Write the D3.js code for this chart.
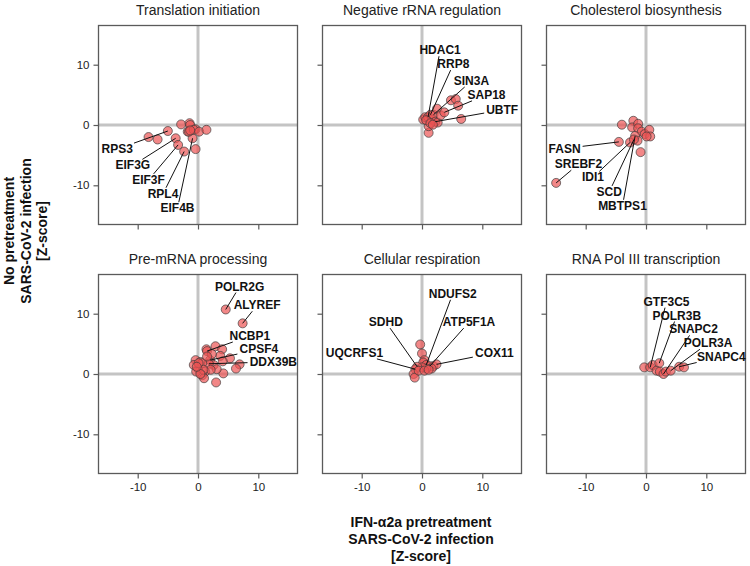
<!DOCTYPE html>
<html><head><meta charset="utf-8">
<script src="https://cdn.jsdelivr.net/npm/d3@7"></script>
<style>body{margin:0;background:#fff}svg{display:block}</style>
</head><body><svg id="c" width="750" height="566"></svg>
<script>
// ---------- data ----------
const panelTitles = ["Translation initiation","Negative rRNA regulation","Cholesterol biosynthesis",
                     "Pre-mRNA processing","Cellular respiration","RNA Pol III transcription"];
const tickValues = [-10, 0, 10];

// points: [x (IFN pretreatment z), y (no pretreatment z)]
const translationPts = [[-5.0,-1.0],[-8.2,-2.0],[-6.7,-2.4],[-3.7,-2.2],[-3.3,-3.3],[-2.3,-4.4],[-0.9,-2.2],
  [-0.4,-4.0],[-2.8,0.1],[-1.4,0.3],[-1.3,0.0],[-1.7,-1.1],[-1.5,-1.1],[-0.4,-0.7],[-0.7,-0.8],[0.2,-1.1],[1.4,-0.8],[-1.3,-0.9]];
const rrnaPts = [[1.1,-1.3],[1.1,-0.2],[0.2,0.9],[0.55,1.3],[1.0,1.3],[1.4,1.7],[1.7,0.9],[1.9,1.7],[2.5,2.7],[2.2,0.55],
  [2.6,0.4],[3.1,1.6],[3.7,2.1],[4.8,4.1],[5.6,4.3],[6.0,3.2],[6.5,1.0],[0.7,0.8],[1.4,0.3],[1.8,0.05]];
const cholesterolPts = [[-14.9,-9.6],[-4.5,-2.8],[-4.0,0.05],[-2.1,0.7],[-2.3,-0.4],[-1.3,0.2],[-1.3,-0.55],[-0.7,-1.1],
  [-0.2,-1.5],[0.55,-0.8],[0.7,-1.9],[0.1,-1.9],[-1.8,-1.8],[-2.65,-2.9],[-1.4,-2.6],[-0.9,-4.5],[-2.0,-2.4]];
const premrnaPts = [[4.6,10.7],[7.4,8.4],[2.9,4.6],[1.4,4.1],[1.5,3.8],[4.0,4.1],[5.3,2.6],[6.9,1.6],[6.3,0.9],[4.2,0.1],
  [3.0,-1.4],[-0.4,2.3],[0.4,2.0],[2.0,2.3],[3.7,3.0],[4.1,2.1],[2.6,1.5],[3.1,0.8],[1.2,0.4],[0.7,-0.2],[1.0,-0.7],
  [0.0,0.9],[-0.7,1.5],[-0.3,0.4],[1.8,1.7],[2.1,0.7],[0.7,1.8],[2.3,3.3],[1.5,2.9],[0.9,0.7],[0.1,1.8],[0.4,0.0],[-0.2,1.2]];
const respirationPts = [[-0.3,4.9],[0.0,3.4],[0.4,2.3],[0.2,1.9],[0.7,1.5],[1.3,1.3],[1.9,1.3],[2.4,1.6],[1.6,0.9],
  [0.7,0.9],[0.0,1.1],[-0.8,1.2],[-1.1,0.8],[-1.4,0.0],[-1.2,-0.6],[-0.55,0.55],[0.4,0.55],[1.1,0.7]];
const polIIIPts = [[-0.3,1.1],[0.7,1.1],[1.1,1.5],[2.2,1.8],[1.75,0.55],[2.3,0.4],[2.9,0.0],[3.3,0.4],[4.1,0.55],[5.5,1.2],[6.3,1.1]];

// labelled genes: [gene, point x, point y]
const translationGenes = [["RPS3",-5.0,-1.0],["EIF3G",-3.7,-2.2],["EIF3F",-3.3,-3.3],["RPL4",-2.3,-4.4],["EIF4B",-0.9,-2.2]];
const rrnaGenes = [["HDAC1",1.0,1.3],["RRP8",1.4,1.7],["SIN3A",1.9,1.7],["SAP18",3.7,2.1],["UBTF",2.2,0.55]];
const cholesterolGenes = [["FASN",-4.5,-2.8],["SREBF2",-14.9,-9.6],["IDI1",-2.65,-2.9],["SCD",-2.0,-2.4],["MBTPS1",-1.8,-1.8]];
const premrnaGenes = [["POLR2G",4.6,10.7],["ALYREF",7.4,8.4],["NCBP1",1.5,3.8],["CPSF4",2.0,2.3],["DDX39B",1.8,1.7]];
const respirationGenes = [["NDUFS2",0.7,1.5],["SDHD",-0.8,1.2],["ATP5F1A",1.3,1.3],["UQCRFS1",-1.1,0.8],["COX11",2.4,1.6]];
const polIIIGenes = [["GTF3C5",0.7,1.1],["POLR3B",2.2,1.8],["SNAPC2",2.9,0.0],["POLR3A",4.1,0.55],["SNAPC4",5.5,1.2]];

// label text centres (data units), in same order as the gene lists
const translationLabelPos = [[-13.4,-4.0],[-10.8,-6.7],[-8.2,-9.1],[-5.8,-11.4],[-3.4,-13.8]];
const rrnaLabelPos = [[3.0,12.4],[5.2,10.1],[8.2,7.3],[10.7,5.0],[13.3,2.5]];
const cholesterolLabelPos = [[-13.5,-3.9],[-11.2,-6.5],[-8.8,-8.7],[-6.1,-11.1],[-3.9,-13.4]];
const premrnaLabelPos = [[6.9,14.5],[9.8,11.4],[8.6,6.3],[10.1,4.1],[12.5,2.0]];
const respirationLabelPos = [[5.1,13.3],[-6.0,8.6],[7.8,8.6],[-11.2,3.5],[12.0,3.5]];
const polIIILabelPos = [[3.4,12.0],[5.1,9.7],[7.9,7.4],[10.3,5.1],[12.5,2.9]];

const panelPoints = [translationPts, rrnaPts, cholesterolPts, premrnaPts, respirationPts, polIIIPts];
const panelGenes = [translationGenes, rrnaGenes, cholesterolGenes, premrnaGenes, respirationGenes, polIIIGenes];
const panelLabelPos = [translationLabelPos, rrnaLabelPos, cholesterolLabelPos, premrnaLabelPos, respirationLabelPos, polIIILabelPos];

// ---------- layout ----------
const svg = d3.select("#c");
const colLeft = [98.5, 322.5, 546.5], rowTop = [25.5, 274.5], size = 199;
const domain = [-16.5, 16.5];
const font = "'Liberation Sans', Arial, Helvetica, sans-serif";

panelTitles.forEach((title, i) => {
  const r = Math.floor(i / 3), c = i % 3;
  const L = colLeft[c], T = rowTop[r];
  const x = d3.scaleLinear().domain(domain).range([L, L + size]);
  const y = d3.scaleLinear().domain(domain).range([T + size, T]);
  const g = svg.append("g");

  // zero lines
  g.append("line").attr("x1", x(0)).attr("x2", x(0)).attr("y1", T).attr("y2", T + size)
    .attr("stroke", "#c4c4c4").attr("stroke-width", 3);
  g.append("line").attr("y1", y(0)).attr("y2", y(0)).attr("x1", L).attr("x2", L + size)
    .attr("stroke", "#c4c4c4").attr("stroke-width", 3);

  // box
  g.append("rect").attr("x", L).attr("y", T).attr("width", size).attr("height", size)
    .attr("fill", "none").attr("stroke", "#5a5a5a").attr("stroke-width", 1.3);

  // axes
  const fmt = d => d < 0 ? "-" + Math.abs(d) : String(d);
  const xa = g.append("g").attr("transform", `translate(0,${T + size})`)
    .call(d3.axisBottom(x).tickValues(tickValues).tickSize(5).tickPadding(4)
      .tickFormat(r === 1 ? fmt : () => ""));
  const ya = g.append("g").attr("transform", `translate(${L},0)`)
    .call(d3.axisLeft(y).tickValues(tickValues).tickSize(5).tickPadding(4)
      .tickFormat(c === 0 ? fmt : () => ""));
  [xa, ya].forEach(a => {
    a.select(".domain").remove();
    a.selectAll(".tick line").attr("stroke", "#5a5a5a").attr("stroke-width", 1.2);
    a.selectAll(".tick text").attr("fill", "#222").style("font-family", font).style("font-size", "11.5px");
  });

  // title
  g.append("text").attr("x", L + size / 2).attr("y", T - 11).attr("text-anchor", "middle")
    .style("font-family", font).style("font-size", "14px").attr("fill", "#222").text(title);

  // points
  g.append("g").selectAll("circle").data(panelPoints[i]).join("circle")
    .attr("cx", d => x(d[0])).attr("cy", d => y(d[1])).attr("r", 4.5)
    .attr("fill", "rgb(236,84,84)").attr("fill-opacity", 0.7)
    .attr("stroke", "#3a3a3a").attr("stroke-opacity", 0.75).attr("stroke-width", 0.9);

  // labels with leader segments
  const lg = g.append("g");
  panelGenes[i].forEach((gene, k) => {
    const lp = panelLabelPos[i][k];
    const cx = x(lp[0]), cy = y(lp[1]);
    const t = lg.append("text").attr("x", cx).attr("y", cy).attr("text-anchor", "middle")
      .attr("dominant-baseline", "central").style("font-family", font)
      .style("font-size", "12px").style("font-weight", "bold").attr("fill", "#111").text(gene[0]);
    const bb = t.node().getBBox();
    const hw = bb.width / 2 + 2, hh = bb.height / 2 - 1;
    const px = x(gene[1]), py = y(gene[2]);
    const dx = px - cx, dy = py - cy;
    const s = Math.min(dx !== 0 ? hw / Math.abs(dx) : Infinity, dy !== 0 ? hh / Math.abs(dy) : Infinity);
    if (s < 1) {
      lg.insert("line", "text").attr("x1", cx + dx * s).attr("y1", cy + dy * s).attr("x2", px).attr("y2", py)
        .attr("stroke", "#111").attr("stroke-width", 1);
    }
  });
});

// axis titles
const xt = svg.append("text").attr("text-anchor", "middle").style("font-family", font)
  .style("font-size", "14px").style("font-weight", "bold").attr("fill", "#111");
["IFN-α2a pretreatment", "SARS-CoV-2 infection", "[Z-score]"].forEach((s, k) =>
  xt.append("tspan").attr("x", 421).attr("y", 527 + k * 17).text(s));
const yt = svg.append("text").attr("text-anchor", "middle").attr("transform", "translate(0,231) rotate(-90)")
  .style("font-family", font).style("font-size", "14px").style("font-weight", "bold").attr("fill", "#111");
["No pretreatment", "SARS-CoV-2 infection", "[Z-score]"].forEach((s, k) =>
  yt.append("tspan").attr("x", 0).attr("y", 14 + k * 16.5).text(s));
</script></body></html>
